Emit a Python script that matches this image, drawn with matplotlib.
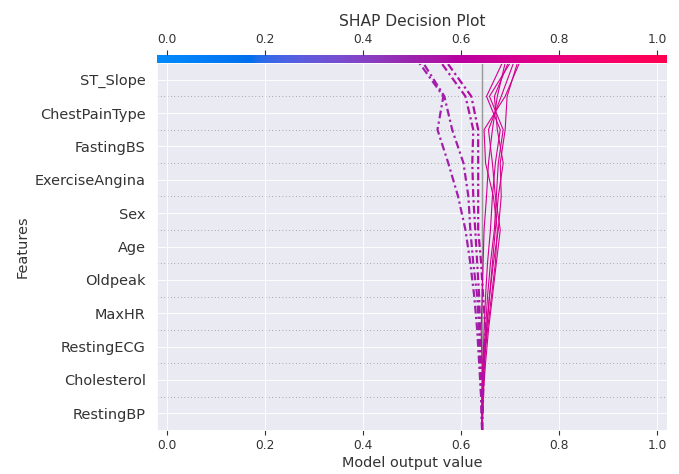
import numpy as np
import matplotlib
matplotlib.use("Agg")
import matplotlib.pyplot as plt
from matplotlib.colors import LinearSegmentedColormap, Normalize
import seaborn as sns

# features from top to bottom of the decision plot
features = ["ST_Slope", "ChestPainType", "FastingBS", "ExerciseAngina", "Sex",
            "Age", "Oldpeak", "MaxHR", "RestingECG", "Cholesterol", "RestingBP"]
base_value = 0.643

# cumulative model output after each feature, read from the bottom feature upwards
misclassified = [
    [0.641, 0.637, 0.633, 0.627, 0.619, 0.609, 0.594, 0.574, 0.552, 0.564, 0.515],
    [0.641, 0.639, 0.637, 0.633, 0.625, 0.619, 0.615, 0.605, 0.582, 0.566, 0.523],
    [0.643, 0.641, 0.639, 0.637, 0.633, 0.629, 0.625, 0.623, 0.625, 0.609, 0.560],
    [0.645, 0.647, 0.650, 0.645, 0.641, 0.635, 0.635, 0.635, 0.635, 0.621, 0.572],
]
correct = [
    [0.643, 0.645, 0.647, 0.650, 0.654, 0.660, 0.664, 0.670, 0.680, 0.652, 0.684],
    [0.643, 0.643, 0.641, 0.643, 0.645, 0.647, 0.652, 0.656, 0.664, 0.674, 0.690],
    [0.645, 0.647, 0.652, 0.658, 0.664, 0.670, 0.676, 0.686, 0.674, 0.668, 0.696],
    [0.643, 0.645, 0.650, 0.654, 0.660, 0.668, 0.672, 0.676, 0.686, 0.658, 0.700],
    [0.645, 0.650, 0.656, 0.664, 0.672, 0.680, 0.670, 0.664, 0.656, 0.682, 0.707],
    [0.643, 0.647, 0.652, 0.658, 0.666, 0.676, 0.682, 0.680, 0.690, 0.694, 0.715],
    [0.645, 0.647, 0.654, 0.662, 0.670, 0.674, 0.666, 0.650, 0.647, 0.690, 0.719],
]
xticks = [0.0, 0.2, 0.4, 0.6, 0.8, 1.0]
xlim = (-0.02, 1.02)


def lch_to_rgb(l, c, h):
    """CIE LCh -> sRGB (D65)"""
    a, b = c * np.cos(h), c * np.sin(h)
    fy = (l + 16) / 116
    f = np.array([fy + a / 500, fy, fy - b / 200])
    xyz = np.where(f ** 3 > 0.008856, f ** 3, (f - 16 / 116) / 7.787)
    xyz = xyz * np.array([0.95047, 1.0, 1.08883])
    m = np.array([[3.2404542, -1.5371385, -0.4985314],
                  [-0.9692660, 1.8760108, 0.0415560],
                  [0.0556434, -0.2040259, 1.0572252]])
    rgb = m @ xyz
    rgb = np.where(rgb > 0.0031308, 1.055 * np.abs(rgb) ** (1 / 2.4) - 0.055, 12.92 * rgb)
    return np.clip(rgb, 0, 1)


# blue -> purple -> red colormap
n = 100
l_vals = np.r_[np.linspace(54, 40, n // 2), np.linspace(40, 54, n // 2)]
c_vals = np.linspace(70, 90, n)
h_vals = np.linspace(4.6588, 0.35470565 + 2 * np.pi, n)
red_blue = LinearSegmentedColormap.from_list(
    "red_blue", [lch_to_rgb(l, c, h) for l, c, h in zip(l_vals, c_vals, h_vals)])

sns.set_style("darkgrid")
plt.rcParams["font.family"] = "DejaVu Sans"
axis_color = "#333333"

fig = plt.figure(figsize=(679 / 80, 474 / 80), dpi=80)
ax_pos = [0.2312, 0.0928, 0.7511, 0.7743]
ax = fig.add_axes(ax_pos)
norm = Normalize(*xlim)
y = np.arange(len(features) + 1)

for i in range(1, len(features)):
    ax.axhline(i, color="#888888", lw=0.8, dashes=(0.8, 3), zorder=-1)
ax.axvline(base_value, color="#999999", lw=1.3, zorder=1)

for path in correct:
    xs = [base_value] + path
    ax.plot(xs, y, color=red_blue(norm(xs[-1])), lw=1, zorder=2)
for path in misclassified:
    xs = [base_value] + path
    ax.plot(xs, y, color=red_blue(norm(xs[-1])), lw=2,
            dashes=(3.5, 1.5, 1, 1.5), zorder=2)

ax.set_xlim(xlim)
ax.set_ylim(0, len(features))
ax.set_xticks(xticks)
ax.set_yticks(y[:-1] + 0.5)
ax.set_yticklabels(features[::-1])
ax.tick_params(axis="x", bottom=True, length=4.5, width=1, color=axis_color,
               labelcolor=axis_color, labelsize=11)
ax.tick_params(axis="y", length=0, labelcolor=axis_color, labelsize=13, pad=10)
ax.set_xlabel("Model output value", fontsize=13, color=axis_color, labelpad=4)
ax.set_ylabel("Features", fontsize=13, color=axis_color, labelpad=5)

# colour bar along the top with its own tick labels
cax = fig.add_axes([ax_pos[0], ax_pos[1] + ax_pos[3], ax_pos[2], 0.0175])
cax.imshow(np.linspace(0, 1, 256)[None, :], aspect="auto", cmap=red_blue,
           extent=(xlim[0], xlim[1], 0, 1))
cax.set_xlim(xlim)
cax.grid(False)
for s in cax.spines.values():
    s.set_visible(False)
cax.set_yticks([])
cax.set_xticks(xticks)
cax.tick_params(axis="x", top=True, bottom=False, labeltop=True, labelbottom=False,
                length=4.5, width=1, color=axis_color, labelcolor=axis_color,
                labelsize=11)
cax.set_title("SHAP Decision Plot", fontsize=14, color=axis_color, pad=26)

fig.savefig("out.png", dpi=80)
